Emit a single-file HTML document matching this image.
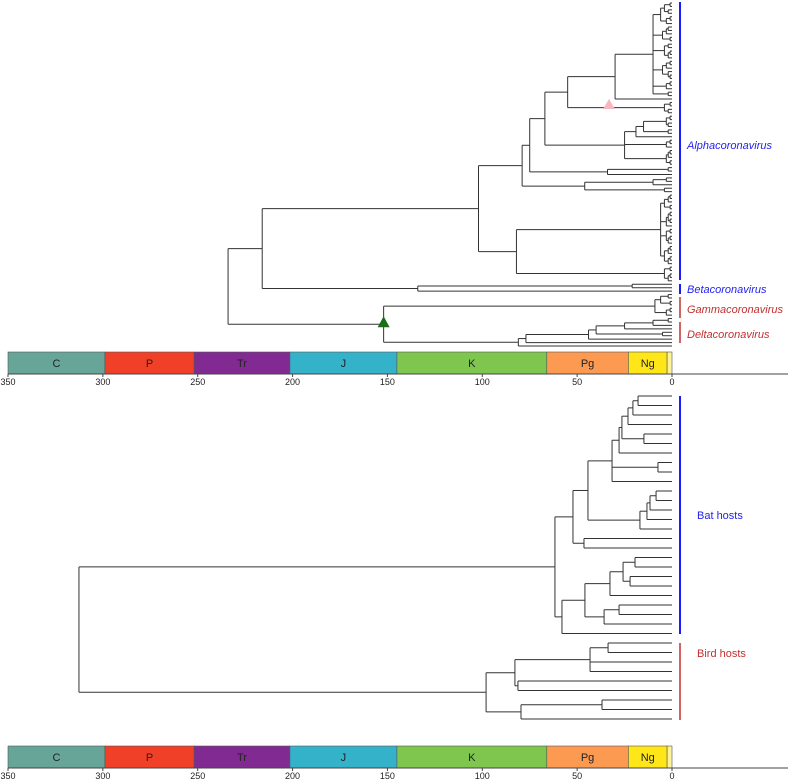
<!DOCTYPE html>
<html><head><meta charset="utf-8">
<style>
body{margin:0;background:#fff;}
svg{display:block;font-family:"Liberation Sans",sans-serif;}
</style></head>
<body>
<svg id="chart" width="788" height="782" viewBox="0 0 788 782" xmlns="http://www.w3.org/2000/svg">
<g id="topTree"></g>
<g id="botTree"></g>
<g id="scales"></g>
<line x1="680" y1="2" x2="680" y2="280" stroke="#1a1aff" stroke-width="2"/>
<text x="687" y="149" font-size="11" font-style="italic" fill="#2222ee">Alphacoronavirus</text>
<line x1="680" y1="284" x2="680" y2="294" stroke="#1a1aff" stroke-width="2"/>
<text x="687" y="293" font-size="11" font-style="italic" fill="#2222ee">Betacoronavirus</text>
<line x1="680" y1="297" x2="680" y2="318" stroke="#c03030" stroke-width="1.5"/>
<text x="687" y="313" font-size="11" font-style="italic" fill="#c03030">Gammacoronavirus</text>
<line x1="680" y1="322" x2="680" y2="343" stroke="#c03030" stroke-width="1.5"/>
<text x="687" y="338" font-size="11" font-style="italic" fill="#c03030">Deltacoronavirus</text>
<line x1="680" y1="396" x2="680" y2="634" stroke="#1a1aff" stroke-width="2"/>
<text x="697" y="519" font-size="11" fill="#2222ee">Bat hosts</text>
<line x1="680" y1="643" x2="680" y2="720" stroke="#c03030" stroke-width="1.5"/>
<text x="697" y="657" font-size="11" fill="#c03030">Bird hosts</text>
</svg>
<script>
// Virus tree pieces: (child,child)age ; x = tip ; ages in Ma
const cladeY = "((((x,x)1,(x,x)2)4,((x,x)1,x)3)6,(((x,x)2,x)3,(x,x)1)5,((x,x)2,((x,x)1,x)2)4,(((x,x)1,x)3,(x,(x,x)1)2)5,((x,x)1,x)3,(x,x)2)10";
const cladeX = "((x,x)1,(x,x)2)4";
const cladeV = "(((((x,x)1,(x,x)2)3,(x,x)2)15,x)19,((x,x)1,x)3,(((x,x)1,x)2,(x,x)1)3)25";
const cladeT = "((x,x)2,x)34";
const cladeR = "(((x,x)3,x)10,(x,x)4)46";
const cladeM = "((((x,x)1,x)2,(x,x)1)4,(((x,x)1,(x,x)1)2,x)3,((x,x)1,((x,x)1,x)2)3,(((x,x)1,x)2,((x,x)1,x)2)4)6";
const cladeN = "((x,x)1,((x,x)1,x)2)4";
const cladeBeta = "((x,x)21,x)134";
const cladeGamma = "(((x,x)2,(x,x)1)6,((x,x)1,x)3)9";
const cladeDelta = "((((((x,x)2,x)10,x)25,(x,x)5)40,x)44,x)77";
const cladeW = "(" + cladeY + ",x)30";
const cladeU = "(" + cladeW + "," + cladeX + ")55";
const cladeS = "(" + cladeU + "," + cladeV + ")67";
const cladeQ = "(" + cladeS + "," + cladeT + ")75";
const cladeP = "(" + cladeQ + "," + cladeR + ")79";
const cladeL = "(" + cladeM + "," + cladeN + ")82";
const cladeAlpha = "(" + cladeP + "," + cladeL + ")102";
const cladeAB = "(" + cladeAlpha + "," + cladeBeta + ")216";
const cladeGD = "(" + cladeGamma + ",(" + cladeDelta + ",x)81)152";
const topNewick = "(" + cladeAB + "," + cladeGD + ")234";

// Host tree pieces
const batA = "((((x,x)17.9,x)20.6,x)23.2,(x,x)14.8)26.4";
const batB = "(" + batA + ",x)27.9";
const batC = "(" + batB + ",(x,x)7.4,x)31.6";
const batD = "((((x,x)8.4,x)11.6,x)13.2,x)16.9";
const batE = "(" + batC + "," + batD + ")44.3";
const batF = "(" + batE + ",(x,x)46.4)52.2";
const batG = "((((x,x)19.5,(x,x)22.1)25.8,x)32.7,((x,x)27.9,x)35.8)45.9";
const batH = "(" + batG + ",x)58";
const batClade = "(" + batF + "," + batH + ")61.7";
const birdClade = "((((x,x)33.7,x,x)43.2,(x,x)81.2)82.8,((x,x)36.9,x)79.6)98";
const botNewick = "(" + batClade + "," + birdClade + ")312.6";

const eraNames = ["C","P","Tr","J","K","Pg","Ng",""];
const eraStart = [350,298.9,251.9,201.4,145,66,23,2.58];
const eraEnd = [298.9,251.9,201.4,145,66,23,2.58,0];
const eraColors = ["#67a599","#f04028","#812b92","#34b2c9","#7fc64e","#fd9a52","#ffe619","#fff39a"];
const tickLabels = [350,300,250,200,150,100,50,0];

const NS="http://www.w3.org/2000/svg";
function xAge(a){return 672 - a*(664/350);}
function parse(s){
  let i=0;
  function node(){
    if(s[i]==='x'){i++;return {kids:[],age:0};}
    i++; const kids=[node()];
    while(s[i]===','){i++;kids.push(node());}
    i++; let j=i; while(i<s.length && /[0-9.]/.test(s[i])) i++;
    return {kids:kids,age:parseFloat(s.slice(j,i))};
  }
  return node();
}
function mk(tag,attrs,parent){const e=document.createElementNS(NS,tag);for(const k in attrs)e.setAttribute(k,attrs[k]);parent.appendChild(e);return e;}
function drawTree(str,g,y0,step,prefix){
  const root=parse(str); let t=0;
  (function lay(n){
    if(!n.kids.length){n.y=y0+step*(t++);return;}
    n.kids.forEach(lay);
    n.y=(n.kids[0].y+n.kids[n.kids.length-1].y)/2;
  })(root);
  (function draw(n,px){
    const x=xAge(n.age);
    if(px!==null){
      const h=mk('line',{x1:px,y1:n.y,x2:x,y2:n.y,stroke:'#333','stroke-width':1},g);
      
      
    }
    if(n.kids.length){
      const v=mk('line',{x1:x,y1:n.kids[0].y,x2:x,y2:n.kids[n.kids.length-1].y,stroke:'#333','stroke-width':1},g);
      
      
      n.kids.forEach(k=>draw(k,x));
    }
  })(root,null);
  return root;
}
const topRoot=drawTree(topNewick,document.getElementById('topTree'),3,3.43,'virus');
drawTree(botNewick,document.getElementById('botTree'),396,9.5,'host');

(function(){
  const g=document.getElementById('topTree');
  const gd=topRoot.kids[1];
  const gx=xAge(gd.age);
  const tri=mk('polygon',{points:`${gx},${gd.y-8} ${gx-6},${gd.y+3} ${gx+6},${gd.y+3}`,fill:'#1a6e1a'},g);
  
  
  const py=105, px=609;
  const p=mk('polygon',{points:`${px},${py-6} ${px-6},${py+4} ${px+6},${py+4}`,fill:'#f7b6c0'},g);
  
  
})();

function drawScale(yTop){
  const g=document.getElementById('scales');
  for(let k=0;k<eraNames.length;k++){
    const x1=xAge(eraStart[k]),x2=xAge(eraEnd[k]);
    const r=mk('rect',{x:x1,y:yTop,width:x2-x1,height:22,fill:eraColors[k],stroke:'#555','stroke-width':0.6},g);
    
    
    if(eraNames[k]){
      const t=mk('text',{x:(x1+x2)/2,y:yTop+15,'font-size':11,'text-anchor':'middle',fill:'#222'},g);
      t.textContent=eraNames[k];
      
      
    }
  }
  const ax=mk('line',{x1:8,y1:yTop+22,x2:788,y2:yTop+22,stroke:'#444','stroke-width':1},g);
  
  
  tickLabels.forEach(v=>{
    const tk=mk('line',{x1:xAge(v),y1:yTop+22,x2:xAge(v),y2:yTop+25,stroke:'#444'},g);
    
    
    const t=mk('text',{x:xAge(v),y:yTop+33,'font-size':9,'text-anchor':'middle',fill:'#222'},g);
    t.textContent=v;
    
    
  });
}
drawScale(352);
drawScale(746);
</script>
</body></html>
